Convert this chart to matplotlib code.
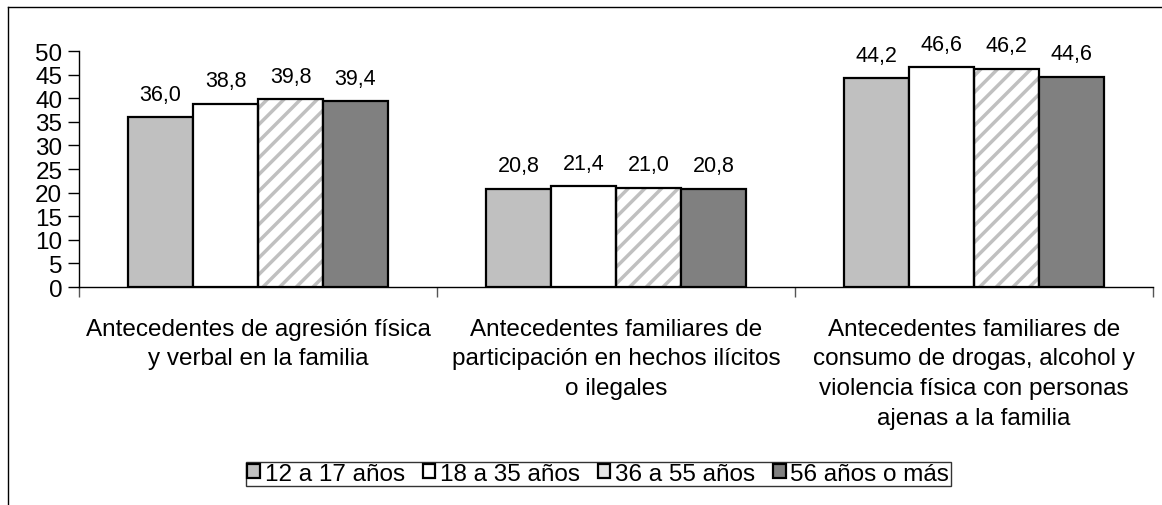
import matplotlib
matplotlib.use("Agg")
import matplotlib.pyplot as plt
from matplotlib.lines import Line2D
import numpy as np

categories = [
    "Antecedentes de agresión física\ny verbal en la familia",
    "Antecedentes familiares de\nparticipación en hechos ilícitos\no ilegales",
    "Antecedentes familiares de\nconsumo de drogas, alcohol y\nviolencia física con personas\najenas a la familia",
]
series = ["12 a 17 años", "18 a 35 años", "36 a 55 años", "56 años o más"]
values = [
    [36.0, 20.8, 44.2],
    [38.8, 21.4, 46.6],
    [39.8, 21.0, 46.2],
    [39.4, 20.8, 44.6],
]
yticks = list(range(0, 51, 5))

plt.rcParams['font.family'] = ['Liberation Sans', 'DejaVu Sans']
plt.rcParams['hatch.linewidth'] = 2.5

fig = plt.figure(figsize=(11.62, 5.06), dpi=100)
ax = fig.add_axes([0.068, 0.4308, 0.9243, 0.4664])

colors = ['#C0C0C0', '#FFFFFF', '#FFFFFF', '#808080']
w = 0.1816
x = np.arange(len(categories))
handles = []
for i, (name, vals) in enumerate(zip(series, values)):
    pos = x + (i - 1.5) * w
    if i == 2:
        ax.bar(pos, vals, w, color='white', edgecolor='#C0C0C0',
               hatch='//', linewidth=0, zorder=2)
        ax.bar(pos, vals, w, fill=False, edgecolor='black',
               linewidth=1.6, zorder=3)
    else:
        ax.bar(pos, vals, w, color=colors[i], edgecolor='black',
               linewidth=1.6, zorder=3)
    h = plt.Rectangle((0, 0), 1, 1, facecolor=colors[i] if i != 2 else '#E4E4E4',
                      edgecolor='black', linewidth=1.6)
    handles.append(h)
    for px, v in zip(pos, vals):
        ax.annotate(f"{v:.1f}".replace('.', ','), (px, v),
                    xytext=(0, 9), textcoords='offset points',
                    ha='center', va='bottom', fontsize=15.5)

ax.set_xlim(-0.5, 2.5)
ax.set_ylim(0, 50)
ax.set_yticks(yticks)
ax.tick_params(axis='y', labelsize=17.5, length=8, width=1, pad=4)
ax.set_xticks([-0.5, 0.5, 1.5, 2.5])
ax.set_xticklabels([])
ax.tick_params(axis='x', length=7, width=1, direction='out', color='#555555')
for s in ['top', 'right']:
    ax.spines[s].set_visible(False)
ax.spines['left'].set_linewidth(1)
ax.spines['bottom'].set_linewidth(1)

for i, c in enumerate(categories):
    ax.annotate(c, (i, 0), xytext=(0, -22), textcoords='offset points',
                ha='center', va='top', fontsize=17.5, linespacing=1.45,
                annotation_clip=False)

leg = fig.legend(handles, series, loc='center', bbox_to_anchor=(0.515, 0.0613),
                 ncol=4, fontsize=17.5, frameon=True, fancybox=False,
                 handlelength=0.5, handleheight=0.5, handletextpad=0.2,
                 columnspacing=0.75, borderpad=0.05, borderaxespad=0)
leg.get_frame().set_edgecolor('black')
leg.get_frame().set_linewidth(1)

fig.add_artist(Line2D([8 / 1162, 1], [1 - 8 / 506, 1 - 8 / 506],
                      transform=fig.transFigure, color='black', linewidth=1))
fig.add_artist(Line2D([8 / 1162, 8 / 1162], [0, 1 - 8 / 506],
                      transform=fig.transFigure, color='black', linewidth=1))

fig.savefig("out.png", dpi=100)
